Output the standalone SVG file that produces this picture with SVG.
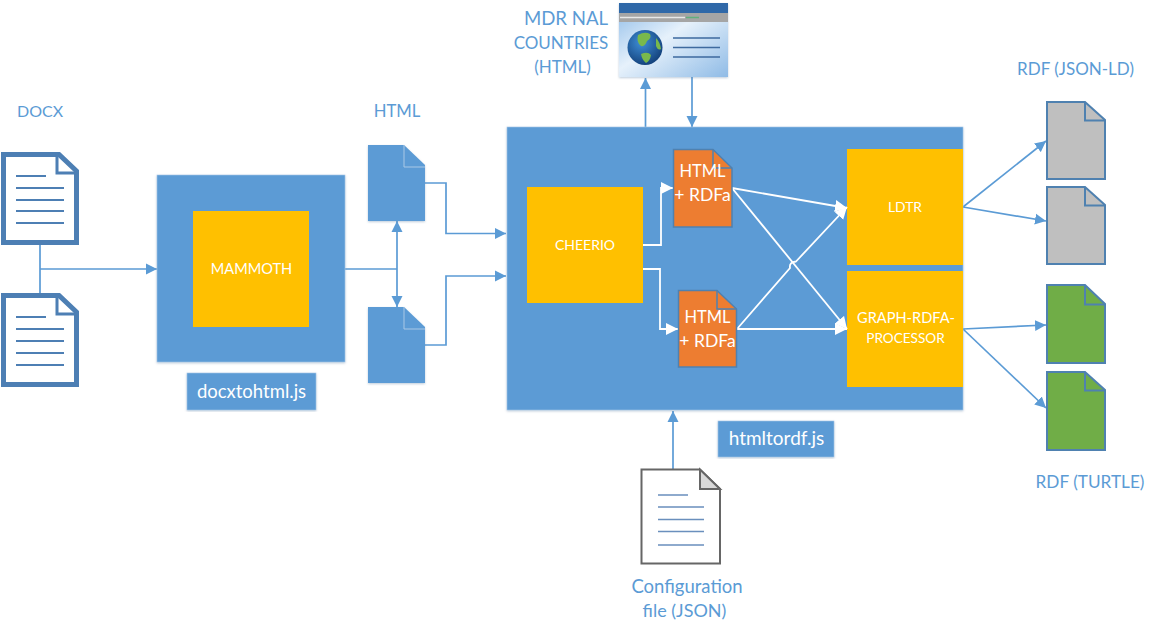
<svg xmlns="http://www.w3.org/2000/svg" width="1156" height="633" viewBox="0 0 1156 633">
<style>
text{font-family:Lato,"Open Sans","Liberation Sans",sans-serif;text-anchor:middle}
.lbl{fill:#5b9bd5}
.wt{fill:#fff}
.box{fill:#5b9bd5;stroke:#a9c8e6;stroke-width:.6;filter:url(#sh)}
.or{fill:#ffc000}
.c{fill:none;stroke:#5b9bd5;stroke-width:1.700}
.cw{fill:none;stroke:#fff;stroke-width:1.800}
.ln{fill:none;stroke:#4d7fb4;stroke-width:2}
.cfg{fill:none;stroke:#6a8fbd;stroke-width:1.600}
</style>
<defs>
<filter id="sh" x="-5%" y="-5%" width="110%" height="110%"><feDropShadow dx="0" dy="1" stdDeviation="1" flood-color="#5b7fa5" flood-opacity=".4"/></filter>
<marker id="a" markerUnits="userSpaceOnUse" markerWidth="12" markerHeight="12" refX="11" refY="6" orient="auto-start-reverse"><path d="M0 .5L11 6L0 11.500z" fill="#5b9bd5"/></marker>
<marker id="w" markerUnits="userSpaceOnUse" markerWidth="13" markerHeight="14" refX="12" refY="7" orient="auto"><path d="M0 1L12 7L0 13z" fill="#fff"/></marker>
<linearGradient id="bg" x1="0" y1="0" x2="1" y2="1"><stop offset="0" stop-color="#8dbbe8"/><stop offset=".45" stop-color="#e6f1fb"/><stop offset="1" stop-color="#8fbbe6"/></linearGradient>
<radialGradient id="gl" cx=".4" cy=".35" r=".7"><stop offset="0" stop-color="#3f8fd8"/><stop offset="1" stop-color="#123f78"/></radialGradient>
</defs>

<g id="connectors">
<path class="c" d="M40 245V293M40 269H157" marker-end="url(#a)"/>
<path class="c" d="M345 269H397"/>
<path class="c" d="M397 221V307" marker-start="url(#a)" marker-end="url(#a)"/>
<path class="c" d="M425 183H446V233.500H506" marker-end="url(#a)"/>
<path class="c" d="M425 345H446V276H506" marker-end="url(#a)"/>
<path class="c" d="M645.500 127V78" marker-end="url(#a)"/>
<path class="c" d="M692 77V127" marker-end="url(#a)"/>
<path class="c" d="M673 469V411" marker-end="url(#a)"/>
<path class="c" d="M963 207L1046 141" marker-end="url(#a)"/>
<path class="c" d="M963 207L1046 221" marker-end="url(#a)"/>
<path class="c" d="M963 329L1046 325" marker-end="url(#a)"/>
<path class="c" d="M963 329L1046 408" marker-end="url(#a)"/>
</g>

<g id="docx-1"><path d="M3.500 154.500H59L76.500 171V242.500H3.500z" fill="#fff" stroke="#4d7fb4" stroke-width="5"/><path d="M57 153V173H76" fill="none" stroke="#4d7fb4" stroke-width="3"/><path class="ln" d="M16 176H46M16 188H64M16 200H64M16 211H64M16 223H64"/></g>
<g id="docx-2"><path d="M3.500 295.500H59L76.500 312V384.500H3.500z" fill="#fff" stroke="#4d7fb4" stroke-width="5"/><path d="M57 294V314H76" fill="none" stroke="#4d7fb4" stroke-width="3"/><path class="ln" d="M16 317H46M16 329H64M16 341H64M16 353H64M16 365H64"/></g>
<text class="lbl" x="40" y="117" font-size="16">DOCX</text>

<g id="mammoth"><rect class="box" x="157" y="175" width="188" height="187"/><rect class="or" x="193" y="211" width="116" height="116"/><text class="wt" x="251.500" y="274" font-size="14.600">MAMMOTH</text></g>
<g id="docxtohtml"><rect class="box" x="187" y="373" width="129" height="37"/><text class="wt" x="251.500" y="398" font-size="18.500">docxtohtml.js</text></g>

<g id="html-1"><path d="M368 145H404L425 165V221H368z" fill="#5b9bd5" style="filter:url(#sh)"/><path d="M404 145V167H425" fill="none" stroke="#a9c8e6" stroke-width="1"/></g>
<g id="html-2"><path d="M368 307H404L425 327V383H368z" fill="#5b9bd5" style="filter:url(#sh)"/><path d="M404 307V329H425" fill="none" stroke="#a9c8e6" stroke-width="1"/></g>
<text class="lbl" x="397" y="117" font-size="16.700">HTML</text>

<g id="htmltordf"><rect class="box" x="507" y="127" width="456" height="283"/></g>
<g id="cheerio"><rect class="or" x="527" y="187" width="116" height="116"/><text class="wt" x="585" y="250" font-size="14">CHEERIO</text></g>
<g id="ldtr"><rect class="or" x="847" y="149" width="116" height="116"/><text class="wt" x="905" y="212" font-size="13.800">LDTR</text></g>
<g id="graph-rdfa"><rect class="or" x="847" y="271" width="116" height="116"/><text class="wt" x="906" y="323" font-size="14.600">GRAPH-RDFA-</text><text class="wt" x="905.500" y="343" font-size="13.600">PROCESSOR</text></g>

<g id="internal-connectors">
<path class="cw" d="M643 245H661V188H673" marker-end="url(#w)"/>
<path class="cw" d="M643 269H660V329H678" marker-end="url(#w)"/>
<path class="cw" d="M732 188L847 208" marker-end="url(#w)"/>
<path class="cw" d="M732 188L847 329" marker-end="url(#w)"/>
<path class="cw" d="M737 329H847" marker-end="url(#w)"/>
<path class="cw" d="M737 329L790 268Q789 262 796 261.500L847 207" marker-end="url(#w)"/>
</g>

<g id="rdfa-1"><path d="M673.500 149.500H713L732 168V227H673.500z" fill="#ed7d31" stroke="#4f81b0" stroke-width="1.500"/><path d="M713 149.500V168H732" fill="none" stroke="#4f81b0" stroke-width="1.500"/><text class="wt" x="702.500" y="177" font-size="16.500">HTML</text><text class="wt" x="702.500" y="201" font-size="17.500">+ RDFa</text></g>
<g id="rdfa-2"><path d="M678.500 290.500H717L736.500 309V367H678.500z" fill="#ed7d31" stroke="#4f81b0" stroke-width="1.500"/><path d="M717 290.500V309H736.500" fill="none" stroke="#4f81b0" stroke-width="1.500"/><text class="wt" x="707.500" y="323" font-size="16.500">HTML</text><text class="wt" x="707.500" y="347" font-size="17.500">+ RDFa</text></g>

<g id="browser">
<rect x="619" y="3" width="109" height="74" fill="url(#bg)" style="filter:url(#sh)"/>
<rect x="619" y="3" width="109" height="10" fill="#2f68a8"/>
<rect x="619" y="13" width="109" height="9" fill="#a5a5a5"/>
<path d="M620 17.500H685" stroke="#e8e8e8" stroke-width="1.500"/><path d="M686 17.500H699" stroke="#62b07c" stroke-width="1.500"/>
<circle cx="645" cy="47.500" r="17.500" fill="url(#gl)"/>
<path d="M638 35Q645 31 650 34Q652 38 647 41Q645 47 641 46Q636 42 638 35zM641 54Q648 51 651 55Q650 61 646 63Q642 60 641 54zM656 38Q660 42 661 49Q658 51 656 46z" fill="#79b94c"/>
<path d="M673 38H720M673 47.500H720M673 57H720" stroke="#3e6a9e" stroke-width="1.500" fill="none"/>
</g>
<text class="lbl" x="566" y="25" font-size="18.600">MDR NAL</text><text class="lbl" x="561" y="49" font-size="17">COUNTRIES</text><text class="lbl" x="562.500" y="73" font-size="17">(HTML)</text>

<g id="jsonld-1"><path d="M1047 102H1085L1105 120V179H1047z" fill="#bfbfbf" stroke="#4f81b0" stroke-width="2"/><path d="M1085 102V120.500H1105" fill="none" stroke="#4f81b0" stroke-width="2"/></g>
<g id="jsonld-2"><path d="M1047 187H1085L1105 205V264H1047z" fill="#bfbfbf" stroke="#4f81b0" stroke-width="2"/><path d="M1085 187V205.500H1105" fill="none" stroke="#4f81b0" stroke-width="2"/></g>
<g id="turtle-1"><path d="M1047 285H1085L1105 304V363H1047z" fill="#70ad47" stroke="#4f81b0" stroke-width="2"/><path d="M1085 285V304.500H1105" fill="none" stroke="#4f81b0" stroke-width="2"/></g>
<g id="turtle-2"><path d="M1047 372H1085L1105 390V450H1047z" fill="#70ad47" stroke="#4f81b0" stroke-width="2"/><path d="M1085 372V390.500H1105" fill="none" stroke="#4f81b0" stroke-width="2"/></g>
<text class="lbl" x="1075.500" y="75" font-size="17">RDF (JSON-LD)</text>
<text class="lbl" x="1090" y="488" font-size="17.200">RDF (TURTLE)</text>

<g id="htmltordf-label"><rect class="box" x="718" y="421" width="116" height="36"/><text class="wt" x="776.500" y="445" font-size="19">htmltordf.js</text></g>

<g id="config"><path d="M641.500 469.500H700L720 489V563.500H641.500z" fill="#fff" stroke="#666" stroke-width="2"/><path d="M700 469.500V489H720L700 469.500z" fill="#d9d9d9" stroke="#666" stroke-width="2"/><path class="cfg" d="M658 495H688M658 507H704M658 519.500H704M658 531.500H704M658 545H704"/></g>
<text class="lbl" x="687" y="593" font-size="18.500">Configuration</text><text class="lbl" x="684.500" y="617" font-size="18">file (JSON)</text>
</svg>
